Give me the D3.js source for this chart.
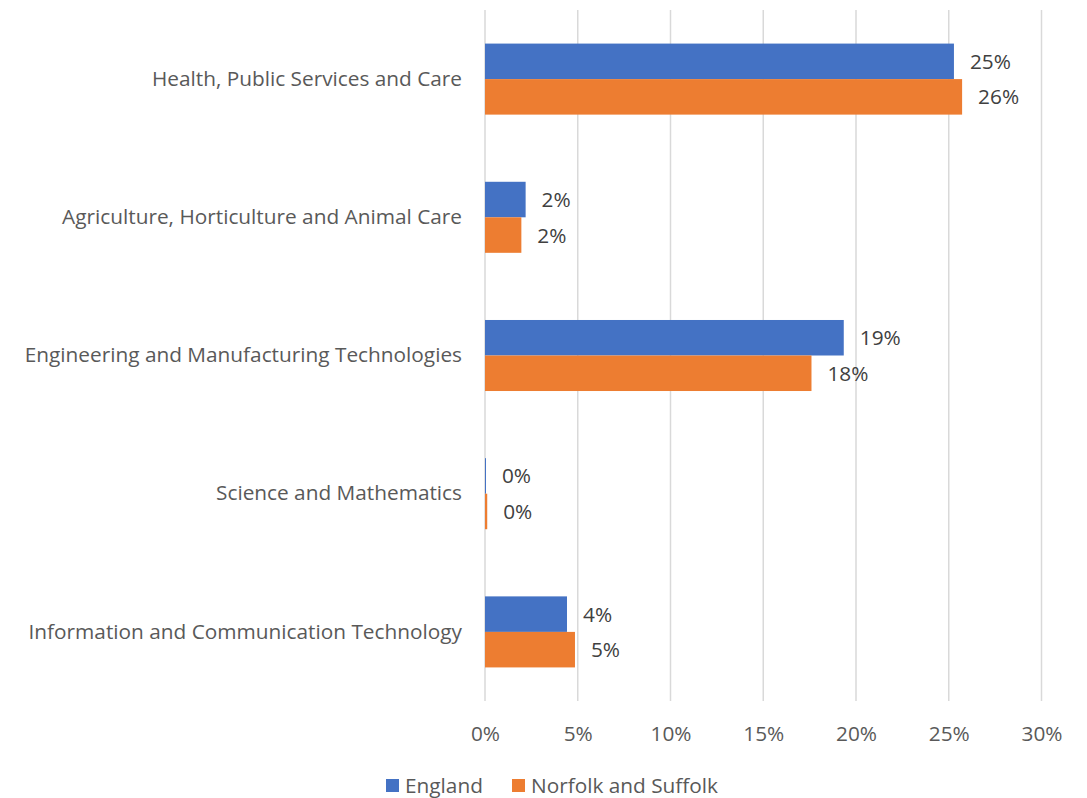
<!DOCTYPE html>
<html>
<head>
<meta charset="utf-8">
<script src="https://cdn.jsdelivr.net/npm/d3@7"></script>
<style>
  html, body { margin: 0; padding: 0; background: #ffffff; }
  svg { display: block; font-family: "Open Sans", Lato, sans-serif; }
</style>
</head>
<body>
<svg id="chart" width="1087" height="798"></svg>
<script>
// Subject areas, top to bottom
const categories = [
  "Health, Public Services and Care",
  "Agriculture, Horticulture and Animal Care",
  "Engineering and Manufacturing Technologies",
  "Science and Mathematics",
  "Information and Communication Technology"
];
const seriesNames = ["England", "Norfolk and Suffolk"];
// Share of learners (fraction)
const england = [0.2528, 0.0219, 0.1934, 0.0005, 0.0442];
const norfolkSuffolk = [0.2572, 0.0196, 0.1760, 0.0012, 0.0485];
const xTicks = [0, 0.05, 0.10, 0.15, 0.20, 0.25, 0.30];

const colors = ["#4472c4", "#ed7d31"];
const series = [england, norfolkSuffolk];
const fontSize = "20.8px";

const svg = d3.select("#chart");
const plotLeft = 485, plotRight = 1041.5, plotTop = 10, plotBottom = 701;

const x = d3.scaleLinear().domain([0, 0.30]).range([plotLeft, plotRight]);
const y = d3.scaleBand().domain(categories).range([plotTop, plotBottom]).paddingInner(0.486).paddingOuter(0.243);
const ySub = d3.scaleBand().domain(seriesNames).range([0, y.bandwidth()]);

// Vertical gridlines
svg.append("g").selectAll("line").data(xTicks).join("line")
  .attr("x1", d => x(d)).attr("x2", d => x(d))
  .attr("y1", plotTop).attr("y2", plotBottom)
  .attr("stroke", "#d9d9d9").attr("stroke-width", 1.5);

// X tick labels
const xAxis = d3.axisBottom(x).tickValues(xTicks).tickFormat(d3.format(".0%")).tickSize(0).tickPadding(0);
const gx = svg.append("g").attr("transform", `translate(0,${plotBottom})`).call(xAxis);
gx.select(".domain").remove();
gx.selectAll("text")
  .attr("y", 40).attr("dy", 0)
  .attr("fill", "#595959").style("font-size", fontSize).style("font-family", "'Open Sans', sans-serif");

// Category labels
const yAxis = d3.axisLeft(y).tickSize(0).tickPadding(23);
const gy = svg.append("g").attr("transform", `translate(${plotLeft},0)`).call(yAxis);
gy.select(".domain").remove();
gy.selectAll("text")
  .attr("fill", "#595959").style("font-size", fontSize).style("font-family", "'Open Sans', sans-serif");

// Bars and value labels
const fmt = d3.format(".0%");
seriesNames.forEach((name, si) => {
  const g = svg.append("g");
  const data = categories.map((c, i) => ({ c, v: series[si][i] }));
  g.selectAll("rect").data(data).join("rect")
    .attr("x", x(0))
    .attr("y", d => y(d.c) + ySub(name))
    .attr("width", d => Math.max(1, x(d.v) - x(0)))
    .attr("height", ySub.bandwidth())
    .attr("fill", colors[si]);
  g.selectAll("text").data(data).join("text")
    .attr("x", d => x(d.v) + 16)
    .attr("y", d => y(d.c) + ySub(name) + ySub.bandwidth() / 2)
    .attr("dy", "0.36em")
    .attr("fill", "#404040")
    .style("font-size", fontSize)
    .text(d => fmt(d.v));
});

// Legend
const legendItems = [
  { name: seriesNames[0], color: colors[0], x: 386 },
  { name: seriesNames[1], color: colors[1], x: 512 }
];
const lg = svg.append("g");
legendItems.forEach(it => {
  lg.append("rect").attr("x", it.x).attr("y", 779).attr("width", 13).attr("height", 13).attr("fill", it.color);
  lg.append("text").attr("x", it.x + 19).attr("y", 786).attr("dy", "0.36em")
    .attr("fill", "#595959").style("font-size", fontSize).text(it.name);
});
</script>
</body>
</html>
